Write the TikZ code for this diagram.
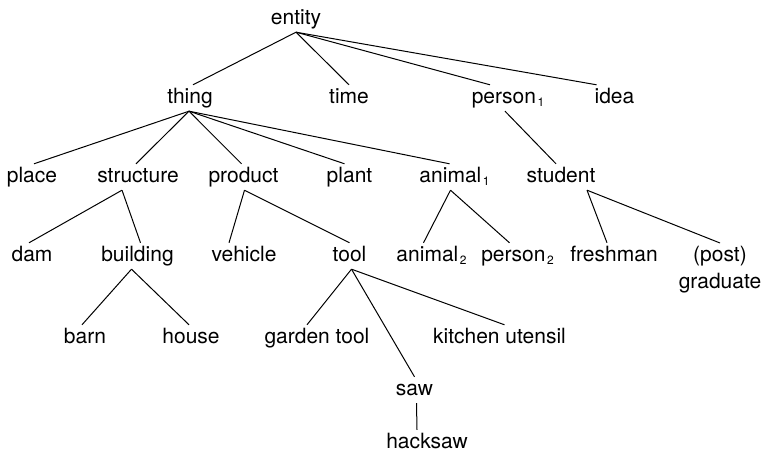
\documentclass[tikz,border=0pt]{standalone}
\usepackage{fontspec}
\setmainfont{TeX Gyre Heros}
\newcommand{\sbx}[1]{\hspace{1.5pt}{\fontsize{12}{12}\selectfont\raisebox{-3pt}{#1}}}
\begin{document}
\begin{tikzpicture}[x=1pt,y=1pt,
  lbl/.style={font=\fontsize{21}{27}\selectfont, anchor=base, inner xsep=1pt, inner ysep=3pt, text height=16pt, text depth=4pt},
  lbl2/.style={font=\fontsize{21}{27}\selectfont, anchor=north, inner sep=3pt, align=center},
  edge/.style={line width=1pt, black}]
\useasboundingbox (0,0) rectangle (766,454);
% row 0
\node[lbl] (entity) at (296,429) {entity};
% row 1
\node[lbl] (thing) at (190,350) {thing};
\node[lbl] (time) at (349,350) {time};
\node[lbl] (person1) at (508,350) {person\sbx{1}};
\node[lbl] (idea) at (614.5,350) {idea};
% row 2
\node[lbl] (place) at (32,271) {place};
\node[lbl] (structure) at (138,271) {structure};
\node[lbl] (product) at (243.5,271) {product};
\node[lbl] (plant) at (349.5,271) {plant};
\node[lbl] (animal1) at (454.5,271) {animal\sbx{1}};
\node[lbl] (student) at (561,271) {student};
% row 3
\node[lbl] (dam) at (32,192) {dam};
\node[lbl] (building) at (137.5,192) {building};
\node[lbl] (vehicle) at (244,192) {vehicle};
\node[lbl] (tool) at (349.5,192) {tool};
\node[lbl] (animal2) at (431.5,192) {animal\sbx{2}};
\node[lbl] (person2) at (517.5,192) {person\sbx{2}};
\node[lbl] (freshman) at (614,192) {freshman};
\node[lbl2] (grad) at (720,211) {(post)\\graduate};
% row 4
\node[lbl] (barn) at (85,110) {barn};
\node[lbl] (house) at (191,110) {house};
\node[lbl] (garden) at (317,110) {garden tool};
\node[lbl] (kitchen) at (499.5,110) {kitchen utensil};
% row 5-6
\node[lbl] (saw) at (414.5,58) {saw};
\node[lbl] (hacksaw) at (427,5) {hacksaw};
% edges
\draw[edge] (entity.south) -- ([xshift=3pt]thing.north);
\draw[edge] (entity.south) -- (time.north);
\draw[edge] (entity.south) -- ([xshift=-18pt]person1.north);
\draw[edge] (entity.south) -- ([xshift=-18pt]idea.north);
\draw[edge] ([xshift=-1pt]thing.south) -- ([xshift=2pt]place.north);
\draw[edge] ([xshift=-1pt]thing.south) -- ([xshift=-2pt]structure.north);
\draw[edge] ([xshift=-1pt]thing.south) -- ([xshift=-2pt]product.north);
\draw[edge] ([xshift=-1pt]thing.south) -- ([xshift=-5pt]plant.north);
\draw[edge] ([xshift=-1pt]thing.south) -- ([xshift=-5pt]animal1.north);
\draw[edge] ([xshift=-3pt]person1.south) -- ([xshift=-5pt]student.north);
\draw[edge] ([xshift=-16pt]structure.south) -- ([xshift=-3pt]dam.north);
\draw[edge] ([xshift=-16pt]structure.south) -- ([xshift=3pt]building.north);
\draw[edge] ([xshift=1pt]product.south) -- ([xshift=-15pt]vehicle.north);
\draw[edge] ([xshift=1pt]product.south) -- (tool.north);
\draw[edge] ([xshift=-4pt]animal1.south) -- ([xshift=-8pt]animal2.north);
\draw[edge] ([xshift=-4pt]animal1.south) -- ([xshift=-8pt]person2.north);
\draw[edge] ([xshift=26pt]student.south) -- ([xshift=-7pt]freshman.north);
\draw[edge] ([xshift=26pt]student.south) -- (grad.north);
\draw[edge] ([xshift=-6pt]building.south) -- ([xshift=-3pt]barn.north);
\draw[edge] ([xshift=-6pt]building.south) -- ([xshift=-2pt]house.north);
\draw[edge] ([xshift=2pt]tool.south) -- ([xshift=-10pt]garden.north);
\draw[edge] ([xshift=2pt]tool.south) -- ([xshift=5pt]kitchen.north);
\draw[edge] ([xshift=2pt]tool.south) -- (saw.north);
\draw[edge] ([xshift=2pt]saw.south) -- ([xshift=-10pt]hacksaw.north);
\end{tikzpicture}
\end{document}
